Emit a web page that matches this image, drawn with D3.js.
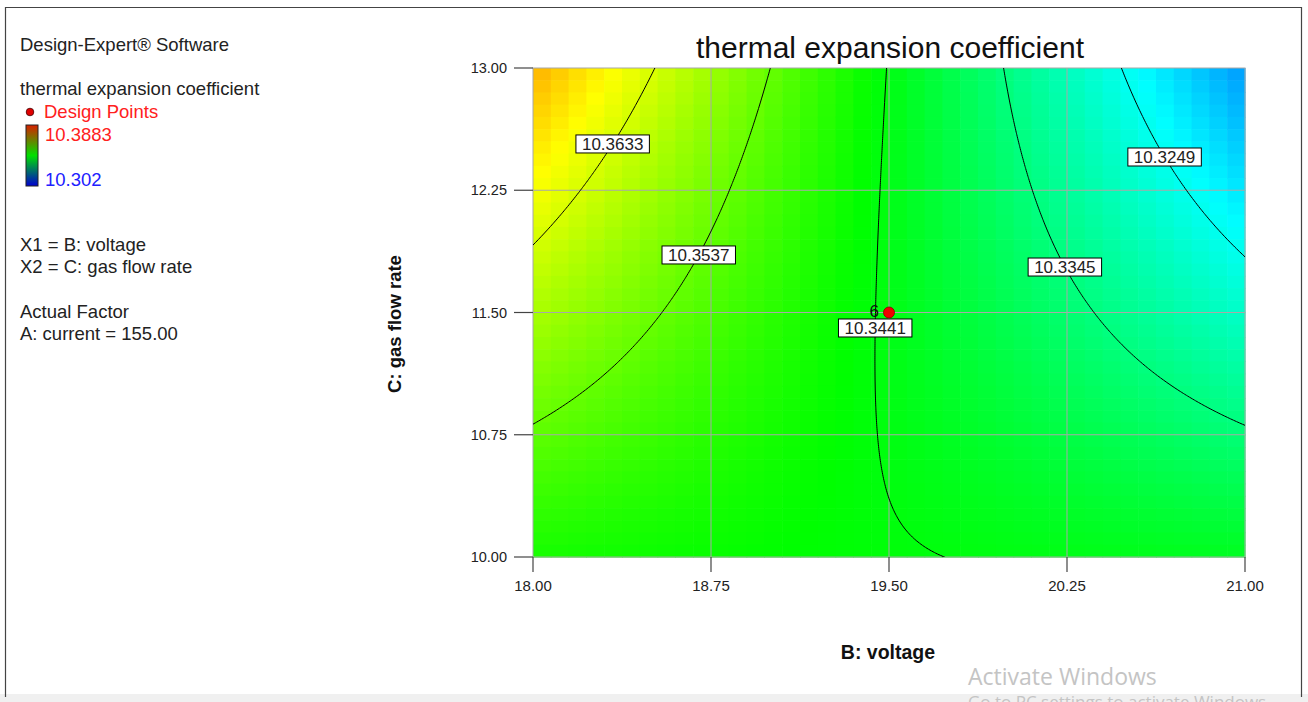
<!DOCTYPE html>
<html><head><meta charset="utf-8">
<script src="https://cdn.jsdelivr.net/npm/d3@7"></script>
<style>
body{margin:0;background:#fff;}
svg{display:block;font-family:Arial,"Liberation Sans",sans-serif;}
</style>
</head><body><svg id="c" width="1308" height="702"></svg>
<script>
// ---------------- data ----------------
const xTicks = [18.00, 18.75, 19.50, 20.25, 21.00];
const yTicks = [10.00, 10.75, 11.50, 12.25, 13.00];
const xDomain = [18, 21];
const yDomain = [10, 13];
// fitted quadratic model in coded units (x1 = B, x2 = C)
const coefTerms  = ["Intercept", "B", "C", "BC", "B^2", "C^2"];
const coefValues = [10.3435, -0.0158, -0.000275, -0.0135, 0.0003, 0.000675];
const contourLevels = [10.3249, 10.3345, 10.3441, 10.3537, 10.3633];
const labelC        = [12.454, 11.779, 11.405, 11.853, 12.534];
const colorRange = [10.302, 10.3883];
const designB = [19.5];
const designC = [11.5];
const designCount = [6];
const infoLines = ["X1 = B: voltage", "X2 = C: gas flow rate", "", "Actual Factor", "A: current = 155.00"];

// ---------------- setup ----------------
const svg = d3.select("#c");
const L = 533, R = 1245, T = 68, B = 557;
const xs = d3.scaleLinear().domain(xDomain).range([L, R]);
const ys = d3.scaleLinear().domain(yDomain).range([B, T]);
const cB = (xDomain[0] + xDomain[1]) / 2, hB = (xDomain[1] - xDomain[0]) / 2;
const cC = (yDomain[0] + yDomain[1]) / 2, hC = (yDomain[1] - yDomain[0]) / 2;
const co = Object.fromEntries(coefTerms.map((t, i) => [t, coefValues[i]]));
function model(b, c) {
  const x = (b - cB) / hB, y = (c - cC) / hC;
  return co["Intercept"] + co["B"] * x + co["C"] * y + co["BC"] * x * y + co["B^2"] * x * x + co["C^2"] * y * y;
}
const tScale = d3.scaleLinear().domain(colorRange).range([0, 1]).clamp(true);
const color = v => d3.hsl(240 * (1 - tScale(v)), 1, 0.5).toString();

// frame & bottom band
svg.append("rect").attr("x", 0).attr("y", 694).attr("width", 1308).attr("height", 8).attr("fill", "#f0f0f0");
svg.append("path").attr("d", "M5.5,697V7.5H1301.5V697").attr("fill", "none").attr("stroke", "#444").attr("stroke-width", 1.2);

// ---------------- field ----------------
const NC = 40, NR = 40;
const cw = (R - L) / NC, ch = (B - T) / NR;
const cells = [];
for (let i = 0; i < NC; i++) for (let j = 0; j < NR; j++) {
  const b = xs.invert(L + (i + 0.5) * cw), c = ys.invert(T + (j + 0.5) * ch);
  cells.push({i, j, v: model(b, c)});
}
svg.append("g").selectAll("rect").data(cells).join("rect")
  .attr("x", d => L + d.i * cw).attr("y", d => T + d.j * ch)
  .attr("width", cw + 0.6).attr("height", ch + 0.6)
  .attr("fill", d => color(d.v));

// grid lines
const g = svg.append("g");
g.selectAll(".vx").data(xTicks.slice(1, -1)).join("line")
  .attr("x1", d => xs(d)).attr("x2", d => xs(d)).attr("y1", T).attr("y2", B)
  .attr("stroke", "#a8a8a8").attr("stroke-width", 1);
g.selectAll(".hy").data(yTicks.slice(1, -1)).join("line")
  .attr("y1", d => ys(d)).attr("y2", d => ys(d)).attr("x1", L).attr("x2", R)
  .attr("stroke", "#a8a8a8").attr("stroke-width", 1);
svg.append("rect").attr("x", L).attr("y", T).attr("width", R - L).attr("height", B - T)
  .attr("fill", "none").attr("stroke", "#a8a8a8").attr("stroke-width", 1);

// ---------------- contours ----------------
svg.append("clipPath").attr("id", "clip").append("rect")
  .attr("x", L).attr("y", T).attr("width", R - L).attr("height", B - T);
const n = 260;
const b0 = xDomain[0] - 0.1, b1 = xDomain[1] + 0.1, c0 = yDomain[0] - 0.1, c1 = yDomain[1] + 0.1;
const db = (b1 - b0) / (n - 1), dc = (c1 - c0) / (n - 1);
const vals = new Array(n * n);
for (let j = 0; j < n; j++) for (let i = 0; i < n; i++) vals[j * n + i] = model(b0 + i * db, c0 + j * dc);
const contours = d3.contours().size([n, n]).thresholds(contourLevels)(vals);
const proj = d3.geoTransform({
  point: function(gx, gy) { this.stream.point(xs(b0 + (gx - 0.5) * db), ys(c0 + (gy - 0.5) * dc)); }
});
const path = d3.geoPath(proj);
svg.append("g").attr("clip-path", "url(#clip)").selectAll("path").data(contours).join("path")
  .attr("d", path).attr("fill", "none").attr("stroke", "#000").attr("stroke-width", 1);

// contour labels
function solveB(level, c) {
  let lo = xDomain[0], hi = xDomain[1];
  const flo = model(lo, c) - level;
  for (let k = 0; k < 60; k++) {
    const m = (lo + hi) / 2, fm = model(m, c) - level;
    if ((fm > 0) === (flo > 0)) lo = m; else hi = m;
  }
  return (lo + hi) / 2;
}
const lg = svg.append("g");
contourLevels.forEach((lev, k) => {
  const c = labelC[k], bx = solveB(lev, c);
  const px = xs(bx), py = ys(c);
  const t = lg.append("text").attr("x", px).attr("y", py + 6).attr("text-anchor", "middle")
    .attr("font-size", 17).attr("fill", "#222").text(lev.toFixed(4));
  const w = t.node().getComputedTextLength() + 12;
  lg.insert("rect", "text").attr("x", px - w / 2).attr("y", py - 9).attr("width", w).attr("height", 18)
    .attr("fill", "#fff").attr("stroke", "#000").attr("stroke-width", 1);
});

// design points
designB.forEach((bv, k) => {
  svg.append("circle").attr("cx", xs(bv)).attr("cy", ys(designC[k])).attr("r", 5.5)
    .attr("fill", "#f00000").attr("stroke", "#800").attr("stroke-width", 0.8);
  svg.append("text").attr("x", xs(bv) - 10).attr("y", ys(designC[k]) + 4).attr("text-anchor", "end")
    .attr("font-size", 17).attr("fill", "#111").text(designCount[k]);
});

// ---------------- axes ----------------
const ax = svg.append("g");
ax.selectAll(".xt").data(xTicks).join("line")
  .attr("x1", d => xs(d)).attr("x2", d => xs(d)).attr("y1", B).attr("y2", B + 15)
  .attr("stroke", "#444").attr("stroke-width", 1.2);
ax.selectAll(".xl").data(xTicks).join("text")
  .attr("x", d => xs(d)).attr("y", B + 34).attr("text-anchor", "middle")
  .attr("font-size", 15).attr("fill", "#222").text(d => d.toFixed(2));
ax.selectAll(".yt").data(yTicks).join("line")
  .attr("y1", d => ys(d)).attr("y2", d => ys(d)).attr("x1", L - 19).attr("x2", L)
  .attr("stroke", "#444").attr("stroke-width", 1.2);
ax.selectAll(".yl").data(yTicks).join("text")
  .attr("x", L - 26).attr("y", d => ys(d) + 5).attr("text-anchor", "end")
  .attr("font-size", 14.5).attr("fill", "#222").text(d => d.toFixed(2));

svg.append("text").attr("x", (L + R) / 2 + 1).attr("y", 58).attr("text-anchor", "middle")
  .attr("font-size", 30).attr("fill", "#111").text("thermal expansion coefficient");
svg.append("text").attr("x", (L + R) / 2 - 1).attr("y", 659).attr("text-anchor", "middle")
  .attr("font-size", 19.5).attr("font-weight", "bold").attr("fill", "#111").text("B: voltage");
svg.append("text").attr("transform", "translate(401,324) rotate(-90)").attr("text-anchor", "middle")
  .attr("font-size", 18.5).attr("font-weight", "bold").attr("fill", "#111").text("C: gas flow rate");

// ---------------- left legend ----------------
const lt = svg.append("g").attr("font-size", 18.5).attr("fill", "#222");
lt.append("text").attr("x", 20).attr("y", 51).text("Design-Expert® Software");
lt.append("text").attr("x", 20).attr("y", 95).text("thermal expansion coefficient");
svg.append("circle").attr("cx", 30).attr("cy", 112).attr("r", 3.8).attr("fill", "#e00000").attr("stroke", "#400").attr("stroke-width", 0.8);
lt.append("text").attr("x", 44).attr("y", 118).attr("fill", "#ff2020").text("Design Points");
const grad = svg.append("defs").append("linearGradient").attr("id", "cb").attr("x1", 0).attr("x2", 0).attr("y1", 0).attr("y2", 1);
grad.append("stop").attr("offset", "0%").attr("stop-color", "#d82000");
grad.append("stop").attr("offset", "50%").attr("stop-color", "#00e000");
grad.append("stop").attr("offset", "100%").attr("stop-color", "#0000d0");
svg.append("rect").attr("x", 26).attr("y", 125).attr("width", 12).attr("height", 61)
  .attr("fill", "url(#cb)").attr("stroke", "#222").attr("stroke-width", 1);
lt.append("text").attr("x", 45).attr("y", 141).attr("fill", "#ff2020").text(colorRange[1].toString());
lt.append("text").attr("x", 45).attr("y", 186).attr("fill", "#2020ff").text(colorRange[0].toString());
infoLines.forEach((s, k) => { if (s) lt.append("text").attr("x", 20).attr("y", 251 + k * 22.3).text(s); });

// watermark
svg.append("text").attr("x", 968).attr("y", 685).attr("font-size", 23).attr("fill", "#c4c4c4")
  .attr("font-family", "'Open Sans','Noto Sans',sans-serif").text("Activate Windows");
svg.append("text").attr("x", 968).attr("y", 708).attr("font-size", 17).attr("fill", "#c4c4c4")
  .attr("font-family", "'Open Sans','Noto Sans',sans-serif").text("Go to PC settings to activate Windows.");
</script></body></html>
